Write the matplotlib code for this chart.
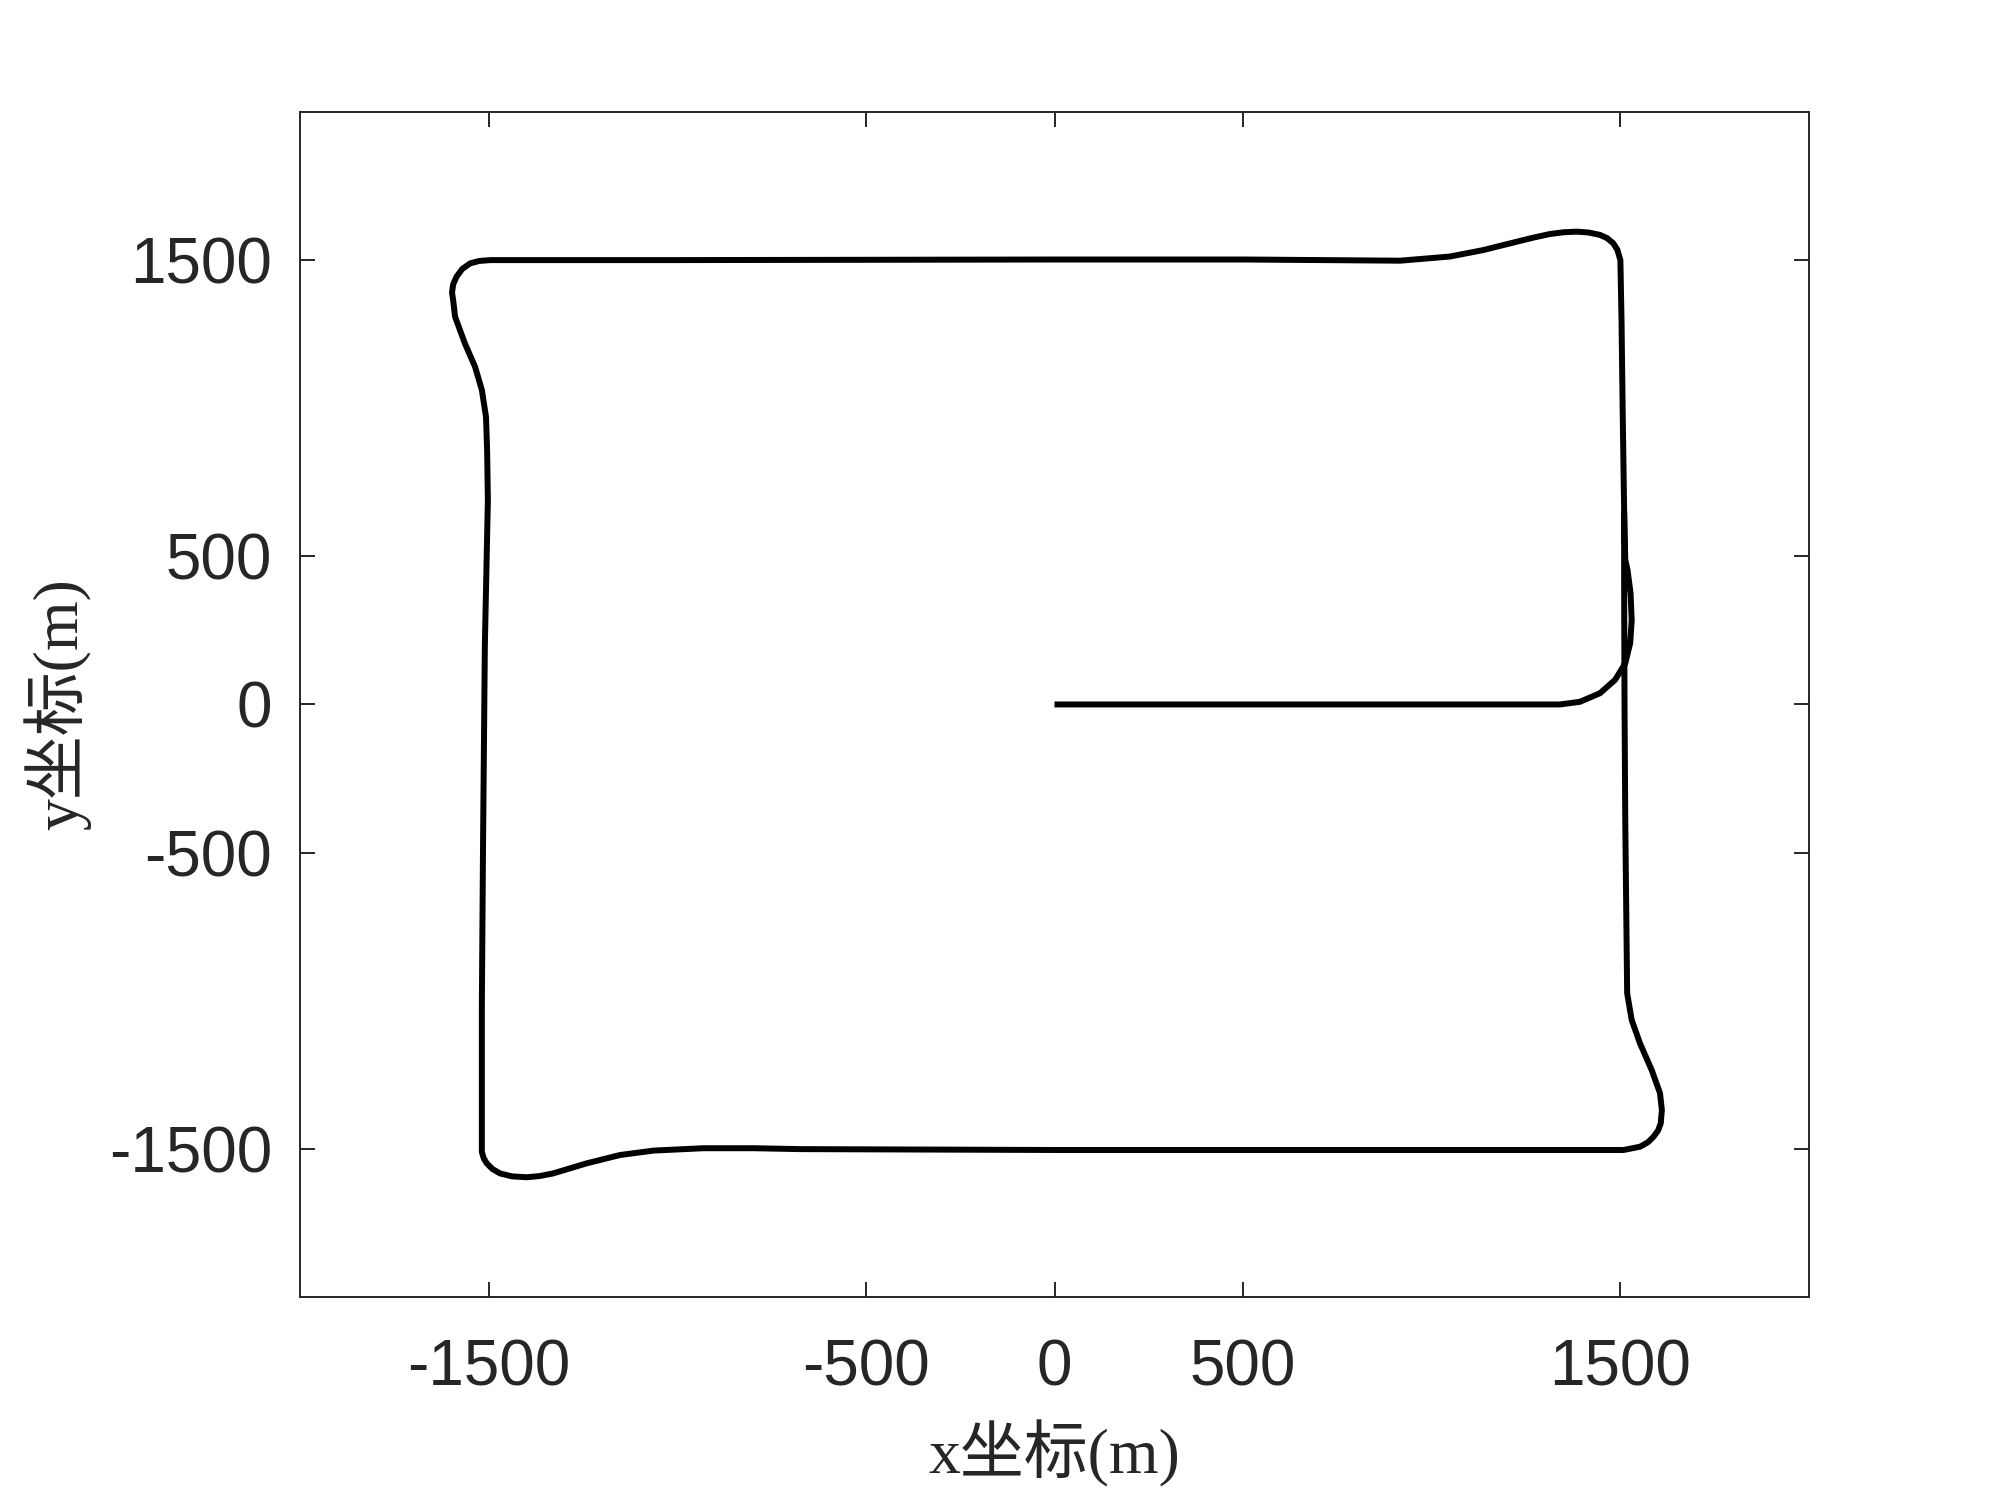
import matplotlib
matplotlib.use("Agg")
import matplotlib.pyplot as plt

plt.rcParams["axes.unicode_minus"] = False

# Trajectory points (m)
path_x = [0, 1340, 1393, 1446, 1486, 1513, 1526, 1530, 1527, 1519, 1513, 1510,
          1506, 1503, 1500, 1492, 1481, 1465, 1446, 1416, 1384, 1350, 1313, 1270, 1225, 1137,
          1048, 916, 500, 0, -1000, -1496, -1525, -1549, -1570, -1585, -1594, -1597, -1594,
          -1589, -1563, -1536, -1518, -1507, -1504, -1502, -1510, -1515, -1518, -1518, -1513,
          -1505, -1490, -1470, -1438, -1399, -1365, -1329, -1240, -1152, -1063, -931, -798,
          -675, 0, 1000, 1508, 1552, 1573, 1588, 1600, 1607, 1610, 1605, 1583, 1552,
          1530, 1518, 1517, 1513, 1511, 1510, 1510]
path_y = [0, 0, 9, 38, 83, 139, 207, 285, 375, 454, 488, 650,
          1000, 1300, 1500, 1535, 1557, 1574, 1585, 1593, 1596, 1594, 1588, 1576, 1562, 1534,
          1512, 1498, 1502, 1502, 1500, 1500, 1497, 1489, 1470, 1444, 1418, 1390, 1365,
          1309, 1219, 1140, 1062, 971, 859, 690, 200, -500, -1026, -1510, -1532,
          -1549, -1568, -1583, -1593, -1596, -1592, -1583, -1549, -1521, -1506, -1498, -1498,
          -1501, -1504, -1504, -1504, -1493, -1478, -1459, -1438, -1414, -1369, -1312, -1234, -1144,
          -1065, -975, -862, -400, 0, 400, 650]

x_ticks = [-1500, -500, 0, 500, 1500]
y_ticks = [-1500, -500, 0, 500, 1500]
x_label = "x坐标(m)"
y_label = "y坐标(m)"

fig = plt.figure(figsize=(20, 14.99), dpi=100)
ax = fig.add_axes([0.15, 0.1348, 0.7545, 0.7905])

ax.plot(path_x, path_y, color="black", lw=4.3, solid_joinstyle="round", solid_capstyle="butt")

ax.set_xlim(-2000, 2000)
ax.set_ylim(-2000, 2000)
ax.set_xticks(x_ticks)
ax.set_yticks(y_ticks)

tc = "#262626"
for s in ax.spines.values():
    s.set_color(tc)
    s.set_linewidth(1.4)
ax.tick_params(direction="in", length=11, width=1.4, color=tc, top=True, right=True,
               labelsize=46, labelcolor=tc)
ax.tick_params(axis="x", pad=30)
ax.tick_params(axis="y", pad=20)
for lab in ax.get_xticklabels() + ax.get_yticklabels():
    lab.set_family("Liberation Sans")

lab_font = dict(family=["Liberation Serif", "Noto Sans CJK SC"], size=46, color=tc)
ax.set_xlabel(x_label, **lab_font)
ax.set_ylabel(y_label, **lab_font)
ax.xaxis.label.set_va("center")
ax.yaxis.label.set_va("center")
ax.xaxis.set_label_coords(0.5, -0.1325)
ax.yaxis.set_label_coords(-0.161, 0.5)

fig.savefig("out.png", dpi=100)
